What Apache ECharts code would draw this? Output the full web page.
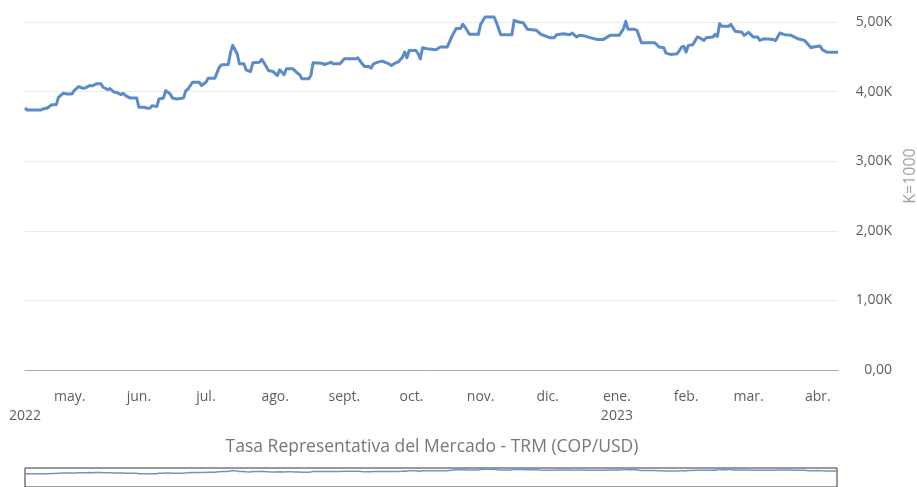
<!DOCTYPE html>
<html>
<head>
<meta charset="utf-8">
<title>TRM</title>
<script src="https://cdn.jsdelivr.net/npm/echarts@6/dist/echarts.min.js"></script>
<style>
  html, body { margin: 0; padding: 0; background: #fff; }
  #chart { width: 917px; height: 487px; }
</style>
</head>
<body>
<div id="chart"></div>
<script>
// TRM COP/USD (weekends flat)
const trmDates = [
  "2022-04-11","2022-04-12","2022-04-18","2022-04-19","2022-04-21","2022-04-23","2022-04-25","2022-04-26","2022-04-28","2022-04-30",
  "2022-05-02","2022-05-03","2022-05-05","2022-05-07","2022-05-08","2022-05-10","2022-05-11","2022-05-13","2022-05-15","2022-05-16",
  "2022-05-18","2022-05-19","2022-05-21","2022-05-22","2022-05-24","2022-05-25","2022-05-26","2022-05-28","2022-05-31",
  "2022-06-01","2022-06-03","2022-06-05","2022-06-06","2022-06-07","2022-06-09","2022-06-10","2022-06-12","2022-06-13","2022-06-15",
  "2022-06-16","2022-06-18","2022-06-21","2022-06-22","2022-06-23","2022-06-25","2022-06-28","2022-06-29",
  "2022-07-01","2022-07-02","2022-07-05","2022-07-07","2022-07-08","2022-07-11","2022-07-12","2022-07-13","2022-07-15","2022-07-16",
  "2022-07-18","2022-07-19","2022-07-21","2022-07-22","2022-07-25","2022-07-26","2022-07-27","2022-07-29","2022-07-31",
  "2022-08-02","2022-08-03","2022-08-05","2022-08-06","2022-08-09","2022-08-10","2022-08-12","2022-08-13","2022-08-16","2022-08-17",
  "2022-08-18","2022-08-22","2022-08-23","2022-08-25","2022-08-26","2022-08-27","2022-08-30",
  "2022-09-01","2022-09-06","2022-09-07","2022-09-09","2022-09-10","2022-09-12","2022-09-13","2022-09-14","2022-09-16","2022-09-18",
  "2022-09-19","2022-09-21","2022-09-22","2022-09-24","2022-09-25","2022-09-27","2022-09-28","2022-09-29","2022-09-30",
  "2022-10-03","2022-10-04","2022-10-05","2022-10-06","2022-10-08","2022-10-12","2022-10-14","2022-10-17","2022-10-19","2022-10-21",
  "2022-10-23","2022-10-24","2022-10-25","2022-10-27","2022-10-31",
  "2022-11-01","2022-11-03","2022-11-07","2022-11-08","2022-11-10","2022-11-15","2022-11-16","2022-11-18","2022-11-20","2022-11-22",
  "2022-11-26","2022-11-28",
  "2022-12-02","2022-12-04","2022-12-05","2022-12-08","2022-12-11","2022-12-12","2022-12-14","2022-12-15","2022-12-17","2022-12-20",
  "2022-12-23","2022-12-26","2022-12-29",
  "2023-01-02","2023-01-04","2023-01-05","2023-01-06","2023-01-09","2023-01-10","2023-01-12","2023-01-18","2023-01-20","2023-01-22",
  "2023-01-23","2023-01-25","2023-01-28","2023-01-30","2023-01-31",
  "2023-02-01","2023-02-02","2023-02-04","2023-02-06","2023-02-07","2023-02-09","2023-02-10","2023-02-13","2023-02-14","2023-02-15",
  "2023-02-16","2023-02-17","2023-02-20","2023-02-21","2023-02-23","2023-02-26","2023-02-27",
  "2023-03-01","2023-03-03","2023-03-05","2023-03-06","2023-03-08","2023-03-12","2023-03-13","2023-03-15","2023-03-17","2023-03-20",
  "2023-03-23","2023-03-26","2023-03-29","2023-03-30",
  "2023-04-02","2023-04-03","2023-04-05","2023-04-10"
];
const trmValues = [
  3765,3735,3735,3750,3765,3812,3812,3918,3976,3966,
  3966,4014,4072,4048,4053,4087,4082,4111,4111,4062,
  4029,4043,3990,3990,3957,3976,3943,3909,3909,
  3774,3774,3760,3765,3798,3784,3894,3909,4014,3966,
  3909,3894,3909,4014,4038,4135,4135,4087,
  4135,4193,4193,4351,4385,4390,4560,4664,4544,4399,
  4399,4313,4289,4414,4423,4462,4414,4303,4289,
  4231,4313,4241,4327,4327,4294,4241,4183,4183,4231,
  4414,4409,4390,4409,4423,4399,4399,
  4471,4471,4486,4399,4361,4361,4337,4399,4423,4438,
  4423,4399,4375,4414,4423,4495,4567,4486,4592,
  4592,4544,4471,4630,4616,4602,4640,4640,4784,4905,
  4905,4967,4928,4823,4823,
  4967,5072,5072,5000,4818,4818,5024,5000,4990,4895,
  4880,4823,
  4775,4775,4818,4832,4818,4842,4784,4808,4804,4775,
  4750,4750,4808,
  4808,4905,5010,4895,4895,4880,4702,4702,4640,4630,
  4553,4534,4544,4640,4650,
  4567,4664,4674,4784,4775,4736,4775,4784,4823,4794,
  4976,4938,4938,4967,4866,4852,4808,
  4852,4784,4784,4736,4760,4750,4730,4842,4818,4808,
  4760,4736,4630,4640,
  4654,4602,4567,4567
];

const axisStart = "2022-04-11";
const axisEnd = "2023-04-10";
const monthTicks = [
  "2022-04-11","2022-05-01","2022-06-01","2022-07-01","2022-08-01","2022-09-01","2022-10-01",
  "2022-11-01","2022-12-01","2023-01-01","2023-02-01","2023-03-01","2023-04-01"
];
const monthLabels = [
  "\n2022","may.","jun.","jul.","ago.","sept.","oct.",
  "nov.","dic.","ene.\n2023","feb.","mar.","abr."
];

const toTime = (s) => +echarts.time.parse(s);
const tickTimes = monthTicks.map(toTime);
const labelByTime = {};
tickTimes.forEach((t, i) => { labelByTime[t] = monthLabels[i]; });
const seriesData = trmDates.map((d, i) => [toTime(d), trmValues[i]]);

const font = "'Open Sans', 'Noto Sans', sans-serif";
const chart = echarts.init(document.getElementById("chart"));

chart.setOption({
  animation: false,
  title: {
    text: "Tasa Representativa del Mercado - TRM (COP/USD)",
    left: 427,
    top: 433,
    textAlign: "center",
    textStyle: { fontFamily: font, fontSize: 17.5, fontWeight: "normal", color: "#777" },
  },
  graphic: [
    {
      type: "text",
      x: 910,
      y: 176,
      rotation: Math.PI / 2,
      style: {
        text: "K=1000",
        fontFamily: font,
        fontSize: 16,
        fill: "#a0a0a0",
        align: "center",
        verticalAlign: "middle",
      },
    },
  ],
  grid: [
    { left: 25, right: 79, top: 22, bottom: 117 },
    // mini overview under the title
    {
      left: 25, right: 80, top: 468, height: 24,
      show: true, borderColor: "#333", borderWidth: 1, backgroundColor: "#fff",
    },
  ],
  xAxis: [
    {
      // dates as timestamps on a value axis, labels only at month starts
      type: "value",
      gridIndex: 0,
      min: toTime(axisStart),
      max: toTime(axisEnd),
      axisLine: { show: true, onZero: false, lineStyle: { color: "#a8a8a8", width: 1 } },
      axisTick: { show: false },
      splitLine: { show: false },
      axisLabel: {
        customValues: tickTimes,
        showMinLabel: true,
        showMaxLabel: true,
        margin: 18,
        fontFamily: font,
        fontSize: 14,
        lineHeight: 19,
        color: "#605e5c",
        align: "center",
        formatter: (v) => labelByTime[v] || "",
      },
    },
    {
      type: "value",
      gridIndex: 1,
      min: toTime(axisStart),
      max: toTime(axisEnd),
      show: false,
    },
  ],
  yAxis: [
    {
      type: "value",
      gridIndex: 0,
      position: "right",
      min: 0,
      max: 5000,
      interval: 1000,
      axisLine: { show: false },
      axisTick: { show: false },
      splitLine: { lineStyle: { color: "#ebebeb", width: 1 } },
      axisLabel: {
        margin: 54,
        align: "right",
        fontFamily: font,
        fontSize: 14,
        color: "#605e5c",
        formatter: (v) => (v === 0 ? "0,00" : (v / 1000).toFixed(2).replace(".", ",") + "K"),
      },
    },
    {
      type: "value",
      gridIndex: 1,
      min: 0,
      max: 5400,
      show: false,
    },
  ],
  series: [
    {
      type: "line",
      xAxisIndex: 0,
      yAxisIndex: 0,
      data: seriesData,
      showSymbol: false,
      clip: false,
      lineStyle: { color: "#5b8bc9", width: 3, join: "round" },
    },
    {
      type: "line",
      xAxisIndex: 1,
      yAxisIndex: 1,
      data: seriesData,
      showSymbol: false,
      lineStyle: { color: "#6a94cc", width: 1.5 },
    },
  ],
});
</script>
</body>
</html>
